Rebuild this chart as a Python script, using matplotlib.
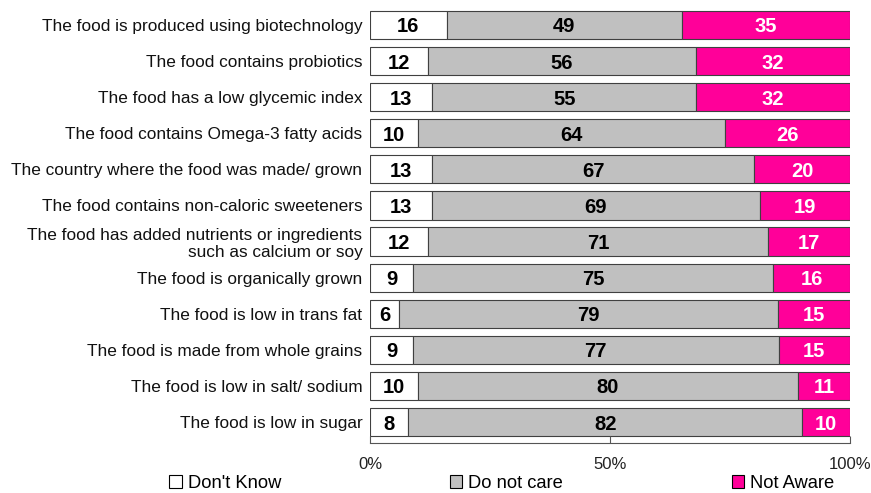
import numpy as np
import matplotlib.pyplot as plt
from matplotlib.patches import Patch

plt.rcParams['font.family'] = ['Liberation Sans', 'DejaVu Sans']

labels = [
    "The food is produced using biotechnology",
    "The food contains probiotics",
    "The food has a low glycemic index",
    "The food contains Omega-3 fatty acids",
    "The country where the food was made/ grown",
    "The food contains non-caloric sweeteners",
    "The food has added nutrients or ingredients\nsuch as calcium or soy",
    "The food is organically grown",
    "The food is low in trans fat",
    "The food is made from whole grains",
    "The food is low in salt/ sodium",
    "The food is low in sugar",
]
dont_know = [16, 12, 13, 10, 13, 13, 12, 9, 6, 9, 10, 8]
not_care = [49, 56, 55, 64, 67, 69, 71, 75, 79, 77, 80, 82]
not_aware = [35, 32, 32, 26, 20, 19, 17, 16, 15, 15, 11, 10]

series = [("Don't Know", dont_know, "#FFFFFF", "black"),
          ("Do not care", not_care, "#C0C0C0", "black"),
          ("Not Aware", not_aware, "#FF0099", "white")]

fig = plt.figure(figsize=(8.71, 4.93), dpi=100)
ax = fig.add_axes([0.4248, 0.1014, 0.5511, 0.8824])

y = np.arange(len(labels))
totals = np.array(dont_know) + np.array(not_care) + np.array(not_aware)
left = np.zeros(len(labels))
for name, vals, color, tcolor in series:
    w = np.array(vals) / totals
    ax.barh(y, w, left=left, height=0.78, color=color, edgecolor="#404040",
            linewidth=0.8, label=name)
    for i in range(len(labels)):
        ax.text(left[i] + w[i] / 2, y[i], str(vals[i]), ha="center",
                va="center_baseline", fontsize=14.5, fontweight="bold",
                color=tcolor)
    left += w

ax.set_xlim(0, 1)
ax.set_ylim(11.58, -0.47)
ax.set_yticks(y)
ax.set_yticklabels(labels, fontsize=12.4, color="#111111")
ax.tick_params(axis="y", length=0, pad=5.5)
ax.set_xticks([0, 0.5, 1])
ax.set_xticklabels(["0%", "50%", "100%"], fontsize=12, color="#222222")
ax.tick_params(axis="x", direction="in", length=5, color="#555555", pad=10)
for s in ["top", "right", "left"]:
    ax.spines[s].set_visible(False)
ax.spines["bottom"].set_color("#555555")

handles = [Patch(facecolor=c, edgecolor="black", linewidth=0.8, label=n)
           for n, _, c, _ in series]
fig.legend(handles=handles, loc="center", bbox_to_anchor=(0.576, 0.02),
           ncol=3, frameon=False, fontsize=13.2, handlelength=0.7,
           handleheight=0.7, handletextpad=0.3, columnspacing=9.2,
           borderpad=0.1)

fig.savefig("out.png", dpi=100)
